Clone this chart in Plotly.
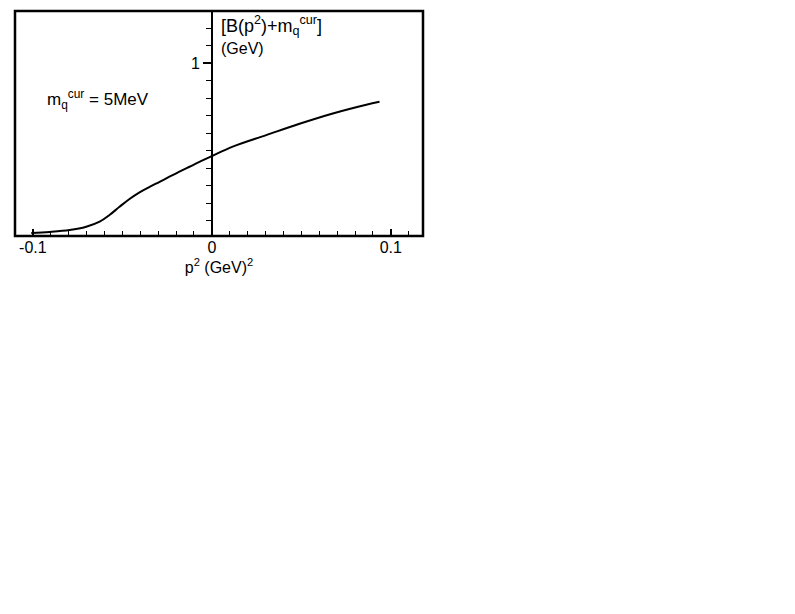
import plotly.graph_objects as go

# p^2 (GeV^2) and B(p^2)+m_q^cur (GeV)
p2 = [-0.1009, -0.0907, -0.0795, -0.0702, -0.0627, -0.0572, -0.0516, -0.0460,
      -0.0404, -0.0348, -0.0292, -0.0237, -0.0181, -0.0125, -0.0069, 0.0,
      0.0117, 0.0304, 0.0490, 0.0676, 0.0863, 0.0937]
B = [0.030, 0.036, 0.047, 0.066, 0.095, 0.133, 0.180, 0.225,
     0.263, 0.294, 0.323, 0.352, 0.381, 0.409, 0.437, 0.470,
     0.524, 0.590, 0.655, 0.714, 0.764, 0.781]

x_tickvals = [-0.1, 0, 0.1]
x_ticktext = ["-0.1", "0", "0.1"]
y_tickvals = [1]
y_ticktext = ["1"]

x_range = [-0.110, 0.118]
y_range = [0.013, 1.30]

FONT = "Liberation Sans, Arial, sans-serif"

fig = go.Figure()
fig.add_trace(go.Scatter(x=p2, y=B, mode="lines",
                         line=dict(color="black", width=2, shape="spline", smoothing=1.0),
                         showlegend=False, hoverinfo="skip"))

ypos = (0 - x_range[0]) / (x_range[1] - x_range[0])

fig.update_layout(
    width=795, height=614,
    margin=dict(l=7, r=380, t=3, b=386),
    paper_bgcolor="white", plot_bgcolor="white",
    font=dict(family=FONT, color="black", size=15),
    xaxis=dict(range=x_range, showgrid=False, zeroline=False, showline=False,
               tickvals=x_tickvals, ticktext=x_ticktext,
               ticks="inside", ticklen=7, tickwidth=1.5, tickcolor="black",
               minor=dict(dtick=0.01, tick0=0, ticks="inside", ticklen=5,
                          tickwidth=1.2, tickcolor="black"),
               tickfont=dict(size=16),
               title=dict(text="p<sup>2</sup> (GeV)<sup>2</sup>", font=dict(size=16), standoff=3)),
    yaxis=dict(range=y_range, showgrid=False, zeroline=False,
               anchor="free", position=ypos,
               showline=True, linecolor="black", linewidth=1.5,
               tickvals=y_tickvals, ticktext=y_ticktext,
               ticks="outside", ticklen=8, tickwidth=1.5, tickcolor="black",
               minor=dict(dtick=0.1, tick0=0, ticks="outside", ticklen=5,
                          tickwidth=1.2, tickcolor="black"),
               tickfont=dict(size=16)),
)

fig.add_shape(type="rect", xref="paper", yref="paper", x0=0, x1=1, y0=0, y1=1,
              line=dict(color="black", width=2.5), layer="above")

fig.add_annotation(xref="x", yref="paper", x=0.004, y=0.935, xanchor="left", yanchor="middle",
                   text="[B(p<sup>2</sup>)+m<sub>q</sub><sup>cur</sup>]", showarrow=False,
                   font=dict(size=18))
fig.add_annotation(xref="x", yref="paper", x=0.004, y=0.835, xanchor="left", yanchor="middle",
                   text="(GeV)", showarrow=False, font=dict(size=16))
fig.add_annotation(xref="x", yref="paper", x=-0.0935, y=0.605, xanchor="left", yanchor="middle",
                   text="m<sub>q</sub><sup>cur</sup> = 5MeV", showarrow=False,
                   font=dict(size=17))

fig.write_html("out.html")
